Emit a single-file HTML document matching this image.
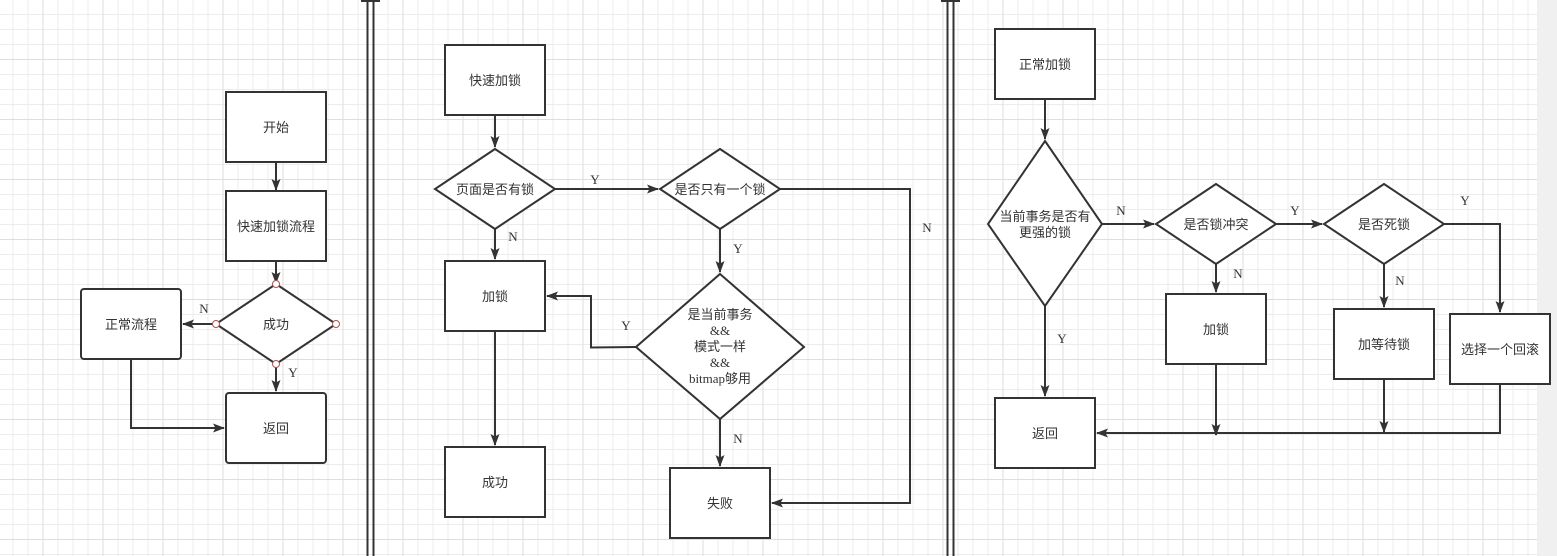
<!DOCTYPE html>
<html><head><meta charset="utf-8"><style>
html,body{margin:0;padding:0;background:#fff;}
svg{display:block;font-family:"Liberation Sans","Noto Sans CJK SC",sans-serif;}
</style></head><body>
<svg width="1557" height="556" viewBox="0 0 1557 556" xmlns="http://www.w3.org/2000/svg">
<defs>
<pattern id="minor" width="15" height="15" patternUnits="userSpaceOnUse" x="12.5" y="14">
<path d="M0 0.5H15M0.5 0V15" stroke="#ececec" stroke-width="1" fill="none"/>
</pattern>
<pattern id="major" width="60" height="60" patternUnits="userSpaceOnUse" x="42.5" y="59">
<path d="M0 0.5H60M0.5 0V60" stroke="#dedede" stroke-width="1" fill="none"/>
</pattern>
<marker id="ar" markerWidth="13" markerHeight="12" refX="11" refY="6" orient="auto" markerUnits="userSpaceOnUse">
<path d="M0 1.5L12 6L0 10.5L2.5 6Z" fill="#333"/>
</marker>
</defs>
<rect width="1557" height="556" fill="#fff"/>
<rect width="1557" height="556" fill="url(#minor)"/>
<rect width="1557" height="556" fill="url(#major)"/>
<rect x="1537" y="0" width="20" height="556" fill="#f0f0f0"/>

<g stroke="#333" stroke-width="2" fill="none">
<path d="M367.5 0V556M373.5 0V556M361 1H380"/>
<path d="M947.5 0V556M953.5 0V556M941 1H960"/>
</g>

<g stroke="#333" stroke-width="2" fill="#fff">
<rect x="226" y="92" width="100" height="70"/>
<rect x="226" y="191" width="100" height="70"/>
<polygon points="276,284 336,324 276,364 216,324"/>
<rect x="81" y="289" width="100" height="70" rx="3"/>
<rect x="226" y="393" width="100" height="70" rx="3"/>
<rect x="445" y="45" width="100" height="70"/>
<polygon points="495,149 555,189 495,229 435,189"/>
<polygon points="720,149 780,189 720,229 660,189"/>
<rect x="445" y="261" width="100" height="70"/>
<polygon points="720,274 804,347 720,419 636,347"/>
<rect x="445" y="447" width="100" height="70"/>
<rect x="670" y="468" width="100" height="70"/>
<rect x="995" y="29" width="100" height="70"/>
<polygon points="1045,141 1102,224 1045,306 988,224"/>
<polygon points="1216,184 1276,224 1216,264 1156,224"/>
<polygon points="1384,184 1444,224 1384,264 1324,224"/>
<rect x="1166" y="294" width="100" height="70"/>
<rect x="1334" y="309" width="100" height="70"/>
<rect x="1450" y="314" width="100" height="70"/>
<rect x="995" y="398" width="100" height="70"/>
</g>

<g stroke="#333" stroke-width="2" fill="none" marker-end="url(#ar)">
<path d="M276 162V190"/>
<path d="M276 261V283"/>
<path d="M216 324H183"/>
<path d="M276 364V391"/>
<path d="M131 359V428H224"/>
<path d="M495 115V147"/>
<path d="M555 189H658"/>
<path d="M495 229V259"/>
<path d="M720 229V272"/>
<path d="M636 347L591 347.5V296H547"/>
<path d="M495 331V445"/>
<path d="M720 419V466"/>
<path d="M780 189H910V503H772"/>
<path d="M1045 99V139"/>
<path d="M1102 224H1154"/>
<path d="M1276 224H1322"/>
<path d="M1444 224H1500V312"/>
<path d="M1216 264V292"/>
<path d="M1384 264V307"/>
<path d="M1045 306V396"/>
<path d="M1216 364V435"/>
<path d="M1384 379V432"/>
<path d="M1500 384V433H1097"/>
</g>

<g fill="#fff" stroke="#b05050" stroke-width="1">
<circle cx="276" cy="284" r="3.5"/><circle cx="336" cy="324" r="3.5"/>
<circle cx="276" cy="364" r="3.5"/><circle cx="216" cy="324" r="3.5"/>
</g>

<g font-size="13" fill="#333" text-anchor="middle">
<text x="276" y="132">开始</text>
<text x="276" y="231">快速加锁流程</text>
<text x="276" y="329">成功</text>
<text x="131" y="329">正常流程</text>
<text x="276" y="433">返回</text>
<text x="495" y="85">快速加锁</text>
<text x="495" y="194">页面是否有锁</text>
<text x="720" y="194">是否只有一个锁</text>
<text x="495" y="301">加锁</text>
<text x="720" y="319">是当前事务</text>
<text x="720" y="351">模式一样</text>
<text x="720" y="383"><tspan font-family="Liberation Serif,Noto Serif CJK SC,serif">bitmap</tspan>够用</text>
<text x="495" y="487">成功</text>
<text x="720" y="508">失败</text>
<text x="1045" y="69">正常加锁</text>
<text x="1045" y="221">当前事务是否有</text>
<text x="1045" y="237">更强的锁</text>
<text x="1216" y="229">是否锁冲突</text>
<text x="1384" y="229">是否死锁</text>
<text x="1216" y="334">加锁</text>
<text x="1384" y="349">加等待锁</text>
<text x="1500" y="354">选择一个回滚</text>
<text x="1045" y="438">返回</text>
</g>
<g font-size="13" fill="#333" font-family="Liberation Serif,serif" text-anchor="middle">
<text x="720" y="335">&amp;&amp;</text>
<text x="720" y="367">&amp;&amp;</text>
<text x="204" y="313">N</text>
<text x="293" y="377">Y</text>
<text x="595" y="184">Y</text>
<text x="513" y="241">N</text>
<text x="738" y="253">Y</text>
<text x="626" y="330">Y</text>
<text x="738" y="443">N</text>
<text x="927" y="232">N</text>
<text x="1121" y="215">N</text>
<text x="1295" y="215">Y</text>
<text x="1465" y="205">Y</text>
<text x="1238" y="278">N</text>
<text x="1400" y="285">N</text>
<text x="1062" y="343">Y</text>
</g>
</svg>
</body></html>
